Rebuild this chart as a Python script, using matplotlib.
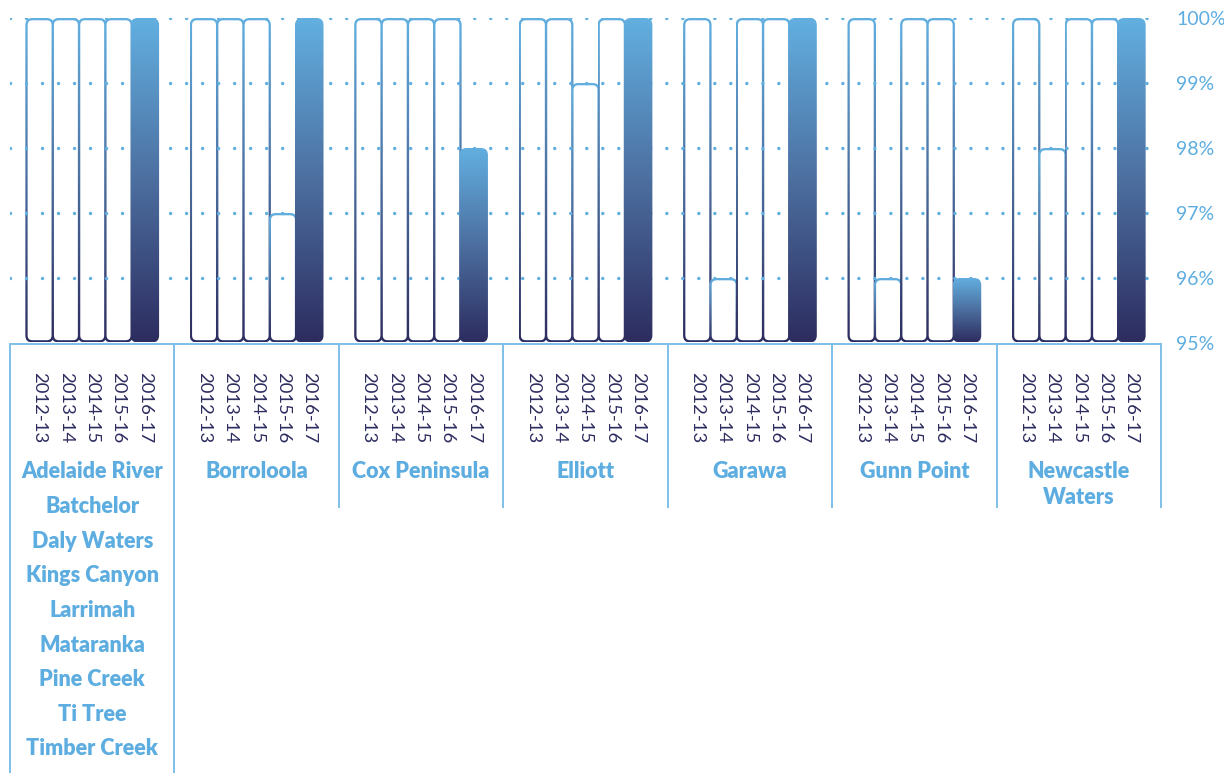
import numpy as np
import matplotlib
matplotlib.use("Agg")
import matplotlib.pyplot as plt
from matplotlib.patches import FancyBboxPatch
from matplotlib.colors import LinearSegmentedColormap
from matplotlib.lines import Line2D
from matplotlib.transforms import blended_transform_factory

plt.rcParams['font.family'] = ['Lato', 'DejaVu Sans']

# ---- data -------------------------------------------------------------
years = ["2012-13", "2013-14", "2014-15", "2015-16", "2016-17"]
groups = [
    ["Adelaide River", "Batchelor", "Daly Waters", "Kings Canyon", "Larrimah",
     "Mataranka", "Pine Creek", "Ti Tree", "Timber Creek"],
    ["Borroloola"],
    ["Cox Peninsula"],
    ["Elliott"],
    ["Garawa"],
    ["Gunn Point"],
    ["Newcastle\nWaters"],
]
values = [
    [100, 100, 100, 100, 100],
    [100, 100, 100, 97, 100],
    [100, 100, 100, 100, 98],
    [100, 100, 99, 100, 100],
    [100, 96, 100, 100, 100],
    [100, 96, 100, 100, 96],
    [100, 98, 100, 100, 100],
]
y_ticks = [95, 96, 97, 98, 99, 100]
y_tick_labels = ["95%", "96%", "97%", "98%", "99%", "100%"]

# ---- styling ----------------------------------------------------------
NAVY = "#2d2c5f"
SKY = "#62b0e1"
LINE_BLUE = "#7dbfe9"
LABEL_BLUE = "#5dade0"
cmap = LinearSegmentedColormap.from_list("bar_grad", [NAVY, "#4c6fa0", SKY])

W, H = 1224, 773
fig = plt.figure(figsize=(W / 100, H / 100), dpi=100)
ax_left, ax_right = 10, 1161
ax_top, ax_bottom = 18, 343
ax = fig.add_axes([ax_left / W, 1 - ax_bottom / H,
                   (ax_right - ax_left) / W, (ax_bottom - ax_top) / H])

step = 6.25          # distance between group starts (bar units)
n_bars = len(years)
x_lo = -(step - n_bars) / 2
x_hi = len(values) * step + x_lo
ax.set_xlim(x_lo, x_hi)
ax.set_ylim(95, 100)

px_x = (x_hi - x_lo) / (ax_right - ax_left)   # data units per pixel in x
px_y = 5 / (ax_bottom - ax_top)               # data units per pixel in y
asp = px_y / px_x

for side in ["top", "bottom", "left", "right"]:
    ax.spines[side].set_visible(False)
ax.set_xticks([])
ax.yaxis.tick_right()
ax.set_yticks(y_ticks)
ax.set_yticklabels(y_tick_labels)
ax.tick_params(axis="y", length=0, pad=11, labelsize=14, labelcolor=LABEL_BLUE)

# dotted gridlines: above the outlined bars, below the filled ones
for yv in y_ticks[1:]:
    ax.axhline(yv, color=SKY, lw=2.5, linestyle=(0, (0.01, 4.6)),
               dash_capstyle="round", zorder=4)

grad = np.linspace(0, 1, 256).reshape(-1, 1)


def rounded(x0, y0, w, h, r):
    return FancyBboxPatch((x0, y0), w, h,
                          boxstyle=f"round,pad=0,rounding_size={r}",
                          mutation_aspect=asp, transform=ax.transData,
                          linewidth=0)


over = 1.1 * px_x        # outline half-overlap between neighbours
lw_x = 2.3 * px_x
lw_y = 2.3 * px_y
rad = 7 * px_x

for g, vals in enumerate(values):
    for i, v in enumerate(vals):
        x0 = g * step + i - over
        w = 1 + 2 * over
        y0 = 95 + 0.5 * px_y
        h = v - y0
        filled = i == n_bars - 1
        outer = rounded(x0, y0, w, h, rad)
        outer.set_facecolor("none")
        ax.add_patch(outer)
        im = ax.imshow(grad, cmap=cmap, origin="lower", aspect="auto",
                       extent=(x0, x0 + w, y0, v),
                       zorder=5 if filled else 2,
                       interpolation="bilinear")
        im.set_clip_path(outer)
        if not filled:
            inner = rounded(x0 + lw_x, y0 + lw_y, w - 2 * lw_x, h - 2 * lw_y,
                            rad - lw_x)
            inner.set_facecolor("white")
            inner.set_zorder(3)
            ax.add_patch(inner)

ax.set_xlim(x_lo, x_hi)
ax.set_ylim(95, 100)

# ---- bracket lines and labels below the bars ------------------------
tr = blended_transform_factory(ax.transData, fig.transFigure)


def fy(py):
    return 1 - py / H


line_kw = dict(color=LINE_BLUE, lw=1.4, transform=tr, clip_on=False)
fig.add_artist(Line2D([x_lo, x_hi], [fy(344), fy(344)], **line_kw))
for g in range(len(values) + 1):
    xd = x_lo + g * step
    bottom = H if g in (0, 1) else 507
    fig.add_artist(Line2D([xd, xd], [fy(344), fy(bottom)], **line_kw))

for g, names in enumerate(groups):
    for i, yr in enumerate(years):
        fig.text(g * step + i + 0.5, fy(372), yr, transform=tr, rotation=270,
                 ha="center", va="top", fontsize=13.3, color=NAVY)
    cx = g * step + n_bars / 2
    ypos = 472
    for name in names:
        for part in name.split("\n"):
            fig.text(cx, fy(ypos), part, transform=tr, ha="center",
                     va="center", fontsize=15.5, fontweight="heavy",
                     color=LABEL_BLUE)
            ypos += 25
        ypos += 34.6 - 25

fig.savefig("out.png", dpi=100, facecolor="white")
